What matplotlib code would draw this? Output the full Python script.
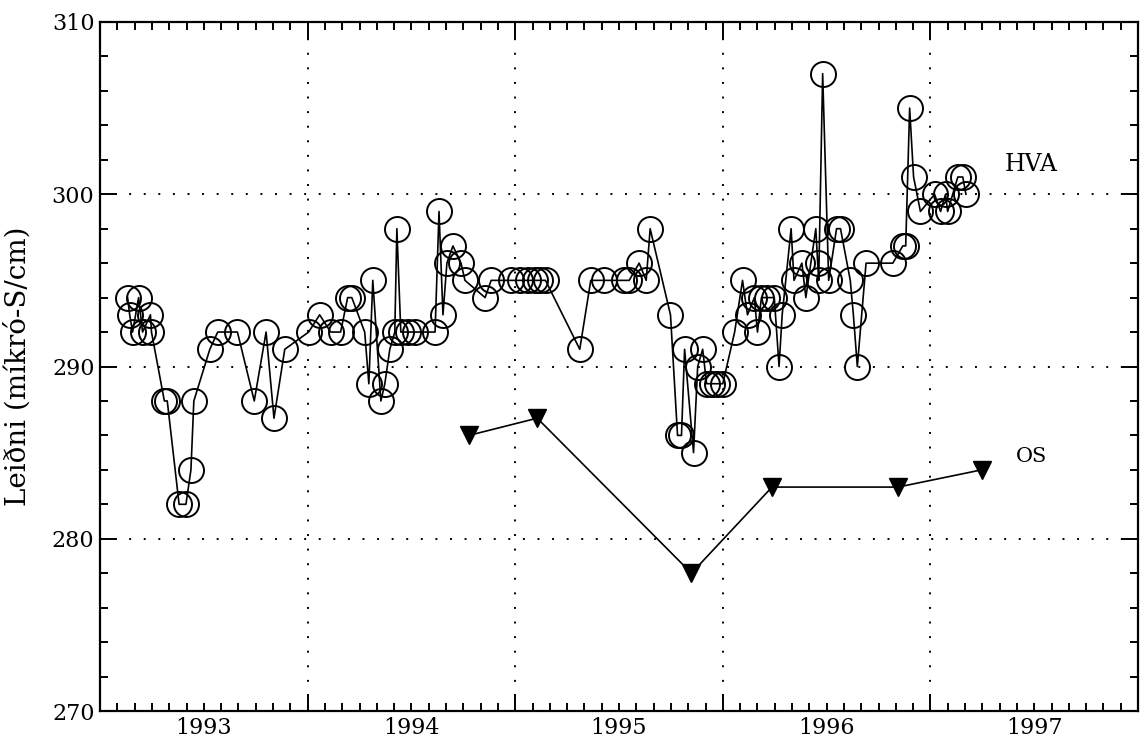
import matplotlib
matplotlib.use("Agg")
import matplotlib.pyplot as plt
from matplotlib.ticker import MultipleLocator
import numpy as np

# ---- data ----
hva_date = [1993.133, 1993.143, 1993.157, 1993.186, 1993.205, 1993.243, 1993.248,
            1993.310, 1993.324, 1993.381, 1993.414, 1993.438, 1993.452, 1993.529,
            1993.567, 1993.662, 1993.743, 1993.800, 1993.838, 1993.890,
            1994.005, 1994.058, 1994.111, 1994.159, 1994.193, 1994.213, 1994.275,
            1994.295, 1994.314, 1994.353, 1994.372, 1994.396, 1994.420, 1994.430,
            1994.449, 1994.483, 1994.517, 1994.614, 1994.633, 1994.652, 1994.671,
            1994.700, 1994.739, 1994.758, 1994.855, 1994.884, 1994.981,
            1995.024, 1995.063, 1995.097, 1995.121, 1995.146, 1995.311, 1995.364,
            1995.427, 1995.524, 1995.549, 1995.597, 1995.631, 1995.650, 1995.748,
            1995.782, 1995.801, 1995.816, 1995.859, 1995.879, 1995.903, 1995.922,
            1995.947, 1995.971,
            1996.000, 1996.057, 1996.095, 1996.119, 1996.152, 1996.167, 1996.186,
            1996.214, 1996.248, 1996.271, 1996.286, 1996.329, 1996.343, 1996.381,
            1996.400, 1996.448, 1996.457, 1996.462, 1996.481, 1996.510, 1996.548,
            1996.567, 1996.614, 1996.629, 1996.648, 1996.690, 1996.819, 1996.867,
            1996.881, 1996.900, 1996.919, 1996.952,
            1997.020, 1997.049, 1997.073, 1997.083, 1997.132, 1997.156, 1997.171]
hva_value = [294, 293, 292, 294, 292, 293, 292,
             288, 288, 282, 282, 284, 288, 291,
             292, 292, 288, 292, 287, 291,
             292, 293, 292, 292, 294, 294, 292,
             289, 295, 288, 289, 291, 292, 298,
             292, 292, 292, 292, 299, 293, 296,
             297, 296, 295, 294, 295, 295,
             295, 295, 295, 295, 295, 291, 295,
             295, 295, 295, 296, 295, 298, 293,
             286, 286, 291, 285, 290, 291, 289,
             289, 289,
             289, 292, 295, 293, 294, 292, 294,
             294, 294, 290, 293, 298, 295, 296,
             294, 298, 296, 295, 307, 295, 298,
             298, 295, 293, 290, 296, 296, 297,
             297, 305, 301, 299,
             300, 299, 300, 299, 301, 301, 300]

os_date = [1994.777, 1995.106, 1995.849, 1996.237, 1996.844, 1997.247]
os_value = [286, 287, 278, 283, 283, 284]

year_labels = ["1993", "1994", "1995", "1996", "1997"]
series_labels = ["HVA", "OS"]
ylabel = "Leiðni (míkró-S/cm)"

# ---- figure ----
fig = plt.figure(figsize=(11.44, 7.48), dpi=100)
ax = fig.add_axes([100/1144, 1-711/748, 1038/1144, 689/748])

ax.plot(hva_date, hva_value, color="black", lw=1.2, marker="o", ms=18,
        mfc="none", mec="black", mew=1.4, zorder=3)
ax.plot(os_date, os_value, color="black", lw=1.2, marker="v", ms=13,
        mfc="black", mec="black", zorder=3)

ax.set_xlim(1993.0, 1998.0)
ax.set_ylim(270, 310)

ax.xaxis.set_major_locator(MultipleLocator(1.0))
ax.xaxis.set_minor_locator(MultipleLocator(1/12))
ax.yaxis.set_major_locator(MultipleLocator(10))
ax.yaxis.set_minor_locator(MultipleLocator(2))
ax.set_xticklabels([])

ax.tick_params(which="both", direction="in", top=True, right=True, width=1.4,
               color="black")
ax.tick_params(which="major", length=12)
ax.tick_params(which="minor", length=5.5)
ax.tick_params(axis="y", which="major", labelsize=16, pad=4)
for lab in ax.get_yticklabels():
    lab.set_fontfamily("DejaVu Serif")

for s in ax.spines.values():
    s.set_linewidth(1.6)

ax.grid(True, which="major", color="black", lw=1.4, linestyle=(0, (1, 6.5)))

for i, lab in enumerate(year_labels):
    ax.annotate(lab, xy=(1993.5 + i, 0), xycoords=("data", "axes fraction"),
                xytext=(0, -4), textcoords="offset points", ha="center",
                va="top", fontsize=16, family="DejaVu Serif")

ax.set_ylabel(ylabel, fontsize=20, family="DejaVu Serif")
ax.yaxis.set_label_coords(-0.066, 0.5)

ax.text(1997.36, 301.7, series_labels[0], fontsize=17, family="DejaVu Serif",
        ha="left", va="center")
ax.text(1997.41, 284.8, series_labels[1], fontsize=15, family="DejaVu Serif",
        ha="left", va="center")

fig.savefig("out.png", dpi=100)
